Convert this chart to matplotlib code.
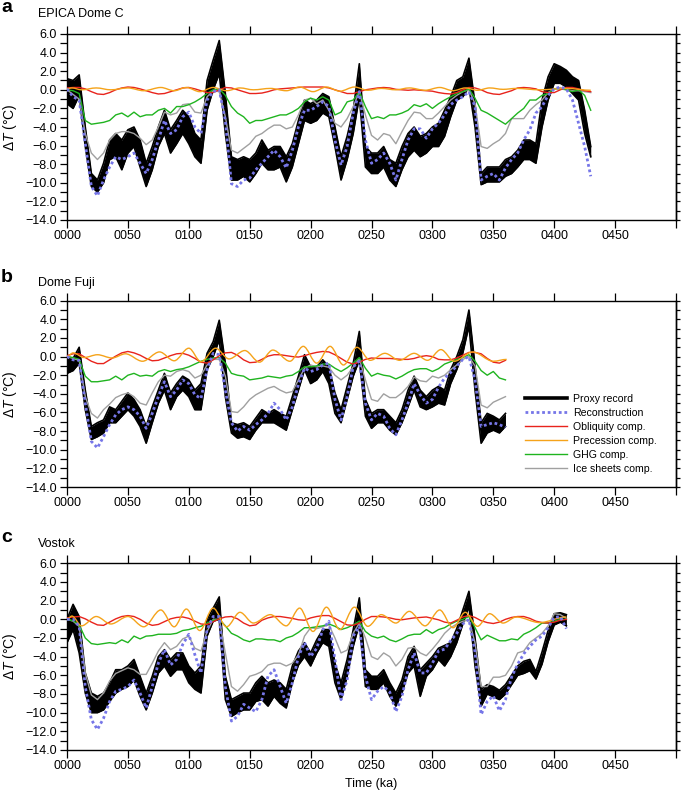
import numpy as np
import matplotlib
matplotlib.use("Agg")
import matplotlib.pyplot as plt
from matplotlib.path import Path
from matplotlib.patches import PathPatch
from matplotlib.lines import Line2D
from matplotlib.ticker import FuncFormatter, MultipleLocator

plt.rcParams['font.family'] = ['Liberation Sans', 'DejaVu Sans']
plt.rcParams['mathtext.fontset'] = 'custom'
plt.rcParams['mathtext.rm'] = 'Liberation Sans'
plt.rcParams['mathtext.it'] = 'Liberation Sans:italic'

# ---------------- data ----------------
# time grids (ka)
t_a = np.arange(0, 431, 5)
t_b = np.arange(0, 361, 5)
t_c = np.arange(0, 411, 5)

# panel a: EPICA Dome C
a_proxy_hi = [1.2, 1.0, 1.6, -4.0, -9.0, -9.7, -7.9, -5.4, -4.7, -5.4, -4.3, -4.0, -5.4, -7.9, -6.1, -4.0, -2.2, -4.3,
              -3.3, -2.2, -2.9, -4.7, -5.4, 1.0, 3.2, 5.3, -0.4, -7.2, -7.5, -7.2, -7.5, -6.8, -5.4, -6.5, -6.1, -6.1,
              -7.2, -5.8, -3.3, -1.1, -1.5, -1.1, -0.4, -0.75, -4.0, -7.2, -5.0, -2.2, 2.8, -6.1, -6.8, -6.8, -6.1,
              -7.5, -7.9, -6.1, -4.7, -4.0, -5.0, -4.7, -4.0, -3.6, -2.2, -0.75, 1.0, 1.4, 3.4, -1.5, -9.0, -8.3, -8.3,
              -8.3, -7.5, -7.2, -6.5, -5.4, -5.4, -5.8, -1.1, 1.4, 2.8, 2.5, 2.1, 1.4, 1.0, -2.2, -6.1]
a_proxy_lo = [-1.5, -2.0, -0.6, -6.1, -10.4, -11.0, -10.0, -7.5, -7.2, -8.6, -6.8, -6.1, -8.3, -10.4, -8.6, -6.1, -4.7,
              -6.8, -5.8, -4.7, -5.8, -7.2, -7.9, -2.2, 0.0, 1.75, -4.7, -9.7, -9.7, -9.3, -9.9, -9.0, -7.9, -8.6, -8.6,
              -8.3, -9.9, -8.3, -5.8, -3.3, -3.6, -3.3, -2.5, -2.9, -6.1, -9.7, -7.5, -4.7, -0.75, -8.3, -9.0, -9.0,
              -8.3, -9.7, -10.4, -8.6, -7.2, -6.5, -7.2, -6.8, -6.1, -6.1, -5.0, -2.9, -1.1, -0.75, 0.3, -4.0, -10.2,
              -9.9, -9.9, -9.9, -9.3, -9.0, -8.3, -7.5, -7.5, -7.9, -4.0, -1.1, 0.7, 0.7, 0.3, -0.4, -1.1, -4.7, -7.2]
a_recon = [0.1, -0.75, -1.1, -5.8, -10.4, -11.4, -9.7, -8.3, -7.2, -7.5, -7.2, -6.8, -7.9, -9.0, -7.5, -5.4, -3.3, -4.7,
           -4.3, -2.9, -2.4, -4.0, -4.7, -1.1, -0.2, 0.0, -3.3, -10.1, -10.4, -9.7, -9.5, -8.6, -7.9, -7.2, -6.5, -7.2,
           -8.4, -6.5, -4.0, -2.2, -2.2, -1.8, -1.3, -1.8, -5.4, -8.1, -6.1, -2.5, -0.2, -5.4, -7.9, -7.5, -6.8, -7.9,
           -9.7, -7.5, -5.4, -4.2, -4.2, -5.2, -4.2, -3.6, -2.7, -1.6, -1.1, -0.75, -0.2, -1.8, -9.7, -9.3, -9.0, -9.7,
           -8.4, -7.5, -6.8, -5.4, -4.3, -2.5, -1.8, -0.6, 0.1, 0.3, 0.1, -1.1, -3.6, -6.1, -9.3]
a_ice = [0.0, -0.5, -1.0, -4.7, -6.8, -7.5, -6.8, -5.4, -4.7, -4.5, -4.5, -4.7, -5.2, -5.9, -5.4, -4.0, -2.4, -2.7, -2.5,
         -1.6, -1.5, -2.4, -2.5, -0.75, -0.1, -0.2, -2.9, -6.5, -6.8, -6.3, -5.8, -5.0, -4.7, -4.2, -3.8, -3.8, -4.2,
         -4.0, -2.7, -1.1, -0.9, -1.5, -1.1, -2.2, -3.6, -4.0, -3.1, -1.8, -0.2, -2.7, -4.9, -5.4, -4.7, -4.9, -5.8,
         -4.5, -3.3, -2.4, -2.5, -3.1, -3.1, -2.5, -1.8, -1.1, -0.6, -0.2, 0.0, -1.5, -6.1, -6.3, -5.8, -5.4, -4.7,
         -3.1, -3.1, -3.1, -2.2, -1.6, -1.1, -0.3, 0.1, 0.25, 0.0, -0.1, -0.1, -0.2, -0.3]
a_ghg = [0.0, -0.1, -0.4, -3.3, -3.7, -3.6, -3.5, -3.3, -2.7, -2.5, -2.9, -2.4, -2.9, -2.7, -2.7, -2.2, -2.0, -2.5, -1.8,
         -1.8, -1.6, -1.3, -0.9, -0.4, 0.0, 0.1, -0.6, -1.8, -2.5, -2.9, -3.6, -3.3, -3.3, -3.1, -2.9, -2.7, -2.7, -2.4,
         -2.0, -1.3, -0.9, -1.1, -0.75, -1.1, -2.7, -2.4, -1.3, -1.1, -0.2, -1.8, -3.1, -2.9, -3.1, -2.7, -2.7, -2.5,
         -2.2, -1.6, -1.8, -1.5, -2.0, -1.5, -1.1, -0.75, -0.4, -0.2, 0.1, -0.9, -2.2, -2.5, -2.9, -3.3, -3.7, -3.1,
         -2.5, -2.0, -1.1, -1.1, -0.6, -0.4, 0.1, 0.1, 0.0, -0.2, 0.0, -0.6, -2.2]
a_obl = [0.2, 0.25, 0.25, 0.1, -0.2, -0.45, -0.5, -0.3, 0.0, 0.2, 0.3, 0.25, 0.1, -0.1, -0.3, -0.45, -0.4, -0.2, 0.0,
         0.2, 0.25, 0.1, -0.1, -0.3, -0.3, 0.0, 0.25, 0.2, 0.0, -0.2, -0.4, -0.4, -0.35, -0.2, 0.0, 0.1, 0.15, 0.2,
         0.25, 0.3, 0.3, 0.3, 0.3, 0.2, 0.0, -0.2, -0.4, -0.4, -0.2, 0.0, 0.1, 0.2, 0.25, 0.2, 0.05, 0.0, -0.05, 0.0,
         -0.05, -0.1, -0.15, -0.3, -0.4, -0.45, -0.3, 0.0, 0.25, 0.2, 0.0, -0.3, -0.45, -0.5, -0.3, -0.1, 0.2, 0.25,
         0.2, 0.1, -0.2, -0.3, -0.3, 0.0, 0.25, 0.25, 0.1, -0.1, -0.2]
# precession: turning points (time, value)
a_pre_t = [0, 4, 12, 24, 36, 50, 63, 77, 88, 98, 109, 120, 131, 142, 153, 167, 180, 191, 202, 213, 224, 236, 247, 258,
           270, 281, 294, 306, 317, 327, 337, 347, 358, 369, 388, 410, 430]
a_pre_v = [0.1, 0.2, 0.0, 0.2, 0.0, 0.2, -0.1, 0.25, -0.1, 0.25, -0.2, 0.25, -0.1, 0.2, 0.0, 0.15, -0.1, 0.3, -0.2, 0.3,
           -0.15, 0.3, -0.05, 0.15, 0.0, 0.2, -0.05, 0.25, -0.1, 0.2, -0.05, 0.2, 0.05, 0.15, 0.0, 0.15, -0.05]

# panel b: Dome Fuji
b_proxy_hi = [0.0, -0.2, 1.0, -3.6, -7.5, -7.1, -6.8, -5.4, -5.7, -4.8, -3.9, -4.6, -5.7, -7.5, -5.4, -3.6, -1.8, -3.9,
              -2.9, -2.1, -2.5, -3.6, -2.9, 0.35, 1.6, 3.9, -0.7, -7.1, -7.3, -7.1, -7.5, -6.6, -5.7, -6.1, -5.7, -6.1,
              -6.4, -4.3, -2.1, 0.2, -1.1, -1.1, -0.35, -1.1, -3.9, -5.7, -3.2, -0.7, 2.7, -4.6, -6.1, -5.7, -5.7, -6.4,
              -7.1, -5.7, -3.6, -2.1, -3.6, -4.3, -3.6, -3.2, -3.6, -1.4, 0.0, 1.8, 5.0, -1.0, -7.1, -6.1, -6.4, -6.8,
              -6.1]
b_proxy_lo = [-1.8, -1.5, -0.7, -5.7, -8.9, -8.6, -8.2, -7.1, -7.1, -6.4, -5.7, -6.4, -7.5, -9.3, -7.1, -5.0, -3.6, -5.7,
              -4.3, -3.6, -4.3, -5.7, -5.7, -1.4, 0.0, 1.8, -4.3, -8.2, -8.75, -8.6, -8.9, -7.9, -7.1, -7.1, -7.1, -7.5,
              -7.9, -5.7, -3.6, -1.4, -2.9, -2.5, -1.6, -2.9, -6.1, -7.1, -4.6, -2.1, -0.35, -6.4, -7.7, -7.1, -7.1,
              -7.9, -8.4, -7.1, -5.4, -3.6, -5.4, -5.7, -5.4, -5.0, -5.2, -2.9, -1.4, 0.4, 3.3, -3.6, -9.3, -8.2, -7.9,
              -8.2, -7.5]
b_recon = [0.0, -0.35, -0.4, -5.0, -9.1, -9.8, -8.6, -7.3, -6.25, -5.7, -5.4, -5.7, -6.4, -7.7, -6.1, -4.3, -2.7, -4.3,
           -3.6, -2.5, -2.9, -4.1, -4.5, -1.4, 0.35, 0.2, -3.6, -7.1, -8.0, -7.5, -7.9, -7.3, -6.8, -6.1, -5.0, -5.7,
           -6.8, -5.4, -3.0, -1.25, -1.6, -1.4, -0.9, -0.7, -4.6, -6.8, -4.3, -1.1, -0.5, -5.0, -6.8, -6.1, -6.4, -7.7,
           -8.4, -6.8, -5.0, -2.9, -4.1, -5.0, -4.6, -3.3, -2.3, -1.7, -1.0, -0.3, 0.0, -2.5, -7.5, -7.3, -7.1, -7.3,
           -7.6]
b_ice = [0.0, -0.2, -0.4, -4.3, -6.1, -6.6, -5.7, -5.1, -4.4, -4.1, -3.9, -4.3, -5.0, -5.2, -3.9, -2.7, -2.0, -2.1, -1.6,
         -1.4, -1.6, -2.3, -2.0, -0.9, -0.3, -0.3, -2.1, -5.9, -6.0, -5.4, -4.6, -4.1, -3.75, -3.4, -3.2, -3.6, -3.9,
         -3.75, -2.5, -1.25, -0.9, -1.1, -1.0, -1.15, -2.0, -2.5, -2.0, -1.1, -0.2, -2.5, -4.6, -4.8, -4.0, -4.4, -4.4,
         -3.9, -3.2, -2.2, -2.6, -2.7, -2.1, -2.3, -2.0, -1.4, -0.9, -0.3, 0.0, -1.0, -5.2, -5.5, -4.9, -4.6, -4.3]
b_ghg = [0.0, -0.1, -0.3, -2.1, -2.7, -2.7, -2.6, -2.5, -2.1, -2.5, -2.0, -1.8, -2.1, -2.0, -2.1, -1.6, -1.4, -1.6, -1.4,
         -1.3, -1.1, -0.8, -0.5, -0.3, -0.15, -0.1, -0.7, -1.8, -2.0, -2.1, -2.5, -2.4, -2.3, -2.1, -2.2, -2.3, -2.1,
         -2.0, -1.6, -1.1, -1.1, -1.0, -0.8, -0.8, -1.25, -1.6, -1.2, -0.7, -0.1, -1.25, -2.1, -1.8, -2.0, -2.1, -2.4,
         -2.1, -1.7, -1.4, -1.3, -1.3, -1.6, -1.3, -0.8, -0.55, -0.3, -0.1, 0.2, -0.5, -1.5, -2.0, -1.6, -2.3, -2.5]
b_obl = [0.1, 0.3, 0.3, -0.1, -0.5, -0.75, -0.75, -0.35, 0.05, 0.4, 0.55, 0.4, 0.15, -0.2, -0.45, -0.4, -0.15, 0.1, 0.3,
         0.35, 0.15, -0.2, -0.6, -0.7, -0.35, 0.1, 0.4, 0.45, 0.15, -0.35, -0.65, -0.6, -0.3, 0.05, 0.2, 0.2, 0.1, 0.0,
         -0.05, 0.1, 0.3, 0.45, 0.55, 0.5, 0.2, -0.2, -0.6, -0.8, -0.6, -0.3, -0.15, -0.2, -0.2, -0.2, -0.25, -0.3,
         -0.3, -0.2, 0.0, 0.1, 0.0, -0.3, -0.35, -0.35, -0.15, 0.15, 0.45, 0.45, 0.3, -0.2, -0.6, -0.7, -0.4]
b_pre_t = [0, 5, 14, 25, 37, 48, 62, 76, 88, 100, 110, 122, 133, 146, 158, 169, 183, 194, 205, 216, 227, 238, 249, 261,
           273, 285, 296, 307, 318, 333, 350, 361]
b_pre_v = [0.0, 0.4, -0.1, 0.2, -0.15, 0.3, -0.5, 0.5, -0.45, 0.9, -0.55, 0.9, -0.25, 0.65, -0.6, 0.7, -0.5, 1.1, -0.7,
           1.1, -0.9, 1.0, -0.4, 0.35, -0.4, 0.35, -0.4, 0.75, -0.5, 0.5, -0.5, -0.3]

# panel c: Vostok
c_proxy_hi = [0.0, 1.6, 0.3, -5.75, -7.9, -8.25, -7.9, -6.8, -5.4, -5.4, -5.0, -4.3, -6.1, -7.9, -6.1, -4.0, -3.25,
              -4.3, -3.6, -3.6, -5.0, -5.75, -5.0, 0.0, 1.2, 2.4, -6.1, -8.6, -8.25, -7.9, -7.9, -6.8, -6.1, -6.8,
              -6.5, -6.8, -7.5, -5.0, -3.4, -2.5, -3.6, -2.2, -1.1, -1.1, -4.7, -6.8, -4.3, -1.1, 2.3, -5.4, -6.1,
              -6.1, -5.4, -6.8, -7.9, -6.5, -4.0, -2.9, -5.4, -4.7, -4.0, -3.1, -2.8, -2.5, -1.0, 1.0, 3.0, -2.0, -7.5,
              -7.0, -7.2, -7.6, -7.0, -6.0, -5.0, -4.5, -4.3, -5.6, -3.5, -1.2, 0.6, 0.7, 0.5]
c_proxy_lo = [-2.5, -1.1, -3.6, -7.9, -10.0, -10.0, -9.7, -8.8, -7.9, -7.5, -7.2, -6.5, -8.25, -9.7, -7.9, -5.75, -5.0,
              -6.1, -5.4, -5.4, -6.8, -7.5, -7.9, -1.8, -0.2, 0.0, -8.6, -10.4, -10.0, -9.7, -9.7, -8.8, -8.6, -9.3,
              -8.25, -9.0, -9.5, -6.8, -4.9, -4.0, -5.0, -3.6, -2.5, -2.9, -6.8, -8.6, -6.1, -2.9, -0.5, -7.2, -7.5,
              -7.5, -6.8, -8.25, -9.3, -7.9, -5.75, -5.0, -8.25, -6.1, -5.4, -4.3, -5.0, -4.0, -2.5, -0.5, 1.4, -5.0,
              -9.3, -8.0, -8.3, -8.6, -8.0, -7.0, -6.0, -5.8, -5.5, -6.4, -4.8, -2.4, -0.6, -0.3, -0.7]
c_recon = [0.0, 0.0, -0.75, -7.2, -10.75, -11.8, -10.6, -8.8, -7.7, -7.5, -7.2, -6.5, -7.9, -9.5, -7.2, -4.7, -3.25,
           -4.9, -4.3, -2.7, -1.6, -3.8, -5.75, -1.1, 0.3, 0.3, -7.2, -10.9, -10.4, -9.1, -9.5, -9.9, -8.6, -6.1, -5.4,
           -7.2, -9.0, -6.8, -4.0, -2.5, -4.0, -3.1, -1.1, -0.2, -4.3, -8.6, -6.5, -1.8, -0.75, -6.1, -8.6, -7.7, -7.2,
           -7.8, -9.9, -8.25, -5.4, -3.6, -5.75, -5.75, -4.7, -3.4, -3.2, -2.3, -1.5, -0.5, 0.0, -3.5, -10.2, -8.8,
           -8.2, -9.8, -8.6, -6.2, -4.8, -3.7, -2.9, -2.2, -1.8, -0.9, 0.2, 0.3, -1.0]
c_ice = [0.0, -0.2, -0.75, -5.75, -8.1, -8.6, -7.9, -6.6, -5.8, -5.5, -5.2, -5.4, -5.9, -5.9, -4.7, -3.4, -2.5, -3.25,
         -2.9, -2.1, -1.8, -3.1, -3.4, -1.3, 0.0, 0.0, -3.6, -7.2, -7.7, -7.0, -6.1, -5.9, -5.6, -4.9, -4.7, -4.7, -5.0,
         -4.7, -3.8, -1.8, -0.9, -1.0, -0.8, -0.6, -2.0, -3.6, -3.3, -1.5, -0.4, -2.0, -4.0, -4.3, -3.6, -4.0, -5.0,
         -4.3, -3.1, -3.0, -3.6, -3.9, -3.2, -2.4, -1.5, -0.9, -0.5, -0.2, -0.1, -2.5, -7.2, -7.2, -6.2, -6.2, -6.0,
         -5.0, -3.6, -3.4, -2.5, -2.0, -1.5, -0.7, 0.6, 0.5, 0.1]
c_ghg = [0.0, -0.15, -0.6, -2.0, -2.6, -2.7, -2.6, -2.5, -2.6, -2.2, -2.5, -1.8, -2.1, -1.8, -1.75, -1.6, -1.6, -1.6,
         -1.5, -1.2, -1.1, -0.9, -0.75, -0.4, -0.1, 0.0, -0.7, -1.5, -1.8, -2.2, -2.4, -2.1, -2.1, -2.2, -2.2, -2.4,
         -2.0, -1.8, -1.4, -0.9, -0.9, -0.8, -0.7, -0.5, -0.75, -1.1, -0.9, -0.6, -0.2, -1.3, -1.8, -2.0, -1.8, -2.2,
         -2.4, -2.1, -1.75, -1.6, -1.6, -1.1, -1.5, -1.1, -0.9, -0.5, -0.2, 0.0, 0.3, -0.9, -2.2, -1.7, -2.0, -2.3,
         -2.3, -2.1, -2.2, -1.6, -1.3, -0.9, -0.4, -0.4, -0.2, 0.0, 0.0]
c_obl = [0.15, 0.25, 0.3, 0.05, -0.3, -0.6, -0.65, -0.3, 0.05, 0.3, 0.4, 0.3, 0.0, -0.4, -0.65, -0.55, -0.25, 0.05, 0.2,
         0.25, 0.1, -0.2, -0.5, -0.55, -0.25, 0.05, 0.25, 0.3, 0.05, -0.4, -0.7, -0.6, -0.1, 0.15, 0.3, 0.3, 0.2, 0.1,
         -0.05, -0.1, 0.15, 0.3, 0.4, 0.4, 0.1, -0.25, -0.6, -0.65, -0.4, 0.0, 0.3, 0.3, 0.25, 0.15, 0.0, -0.05, 0.05,
         0.15, 0.2, 0.25, 0.1, -0.05, -0.3, -0.4, -0.1, 0.25, 0.4, 0.2, -0.15, -0.35, -0.45, -0.3, 0.0, 0.2, 0.3, 0.3,
         0.1, -0.2, -0.35, -0.4, -0.3, -0.1, 0.0]
c_pre_t = [0, 4, 12, 24, 36, 50, 63, 77, 88, 98, 109, 120, 131, 142, 153, 167, 180, 191, 202, 213, 224, 236, 247, 258,
           270, 281, 294, 306, 317, 327, 337, 347, 358, 369, 388, 410]
c_pre_v = [0.0, 0.35, -0.7, 0.3, -0.5, 0.3, -0.8, 1.0, -0.8, 1.1, -1.2, 1.2, -0.8, 0.75, -0.4, 0.5, -0.7, 1.2, -1.3,
           1.3, -1.1, 1.3, -0.75, 0.5, -0.4, 0.85, -0.7, 1.0, -0.9, 0.75, -0.75, 0.6, -0.4, 0.25, -0.35, 0.25]

labels = ['Proxy record', 'Reconstruction', 'Obliquity comp.', 'Precession comp.', 'GHG comp.', 'Ice sheets comp.']
col_rec = '#7676e8'
col_obl = '#e8231c'
col_pre = '#f5a31a'
col_ghg = '#1fb41f'
col_ice = '#a0a0a0'


def smooth_line(ax, t, v, **kw):
    # cubic segments with flat tangents at each turning point
    verts = [(t[0], v[0])]
    codes = [Path.MOVETO]
    for i in range(len(t) - 1):
        d = (t[i + 1] - t[i]) / 3.0
        verts += [(t[i] + d, v[i]), (t[i + 1] - d, v[i + 1]), (t[i + 1], v[i + 1])]
        codes += [Path.CURVE4] * 3
    ax.add_patch(PathPatch(Path(verts, codes), fill=False, **kw))


def draw_panel(ax, t, hi, lo, rec, ice, ghg, obl, pre_t, pre_v):
    ax.fill_between(t, lo, hi, color='black', lw=0, zorder=2)
    ax.plot(t, hi, color='black', lw=1.2, zorder=2)
    ax.plot(t, lo, color='black', lw=1.2, zorder=2)
    ax.plot(t, ice, color=col_ice, lw=1.0, zorder=3)
    ax.plot(t, ghg, color=col_ghg, lw=1.0, zorder=3)
    ax.plot(t, obl, color=col_obl, lw=1.0, zorder=3)
    smooth_line(ax, pre_t, pre_v, edgecolor=col_pre, lw=1.0, zorder=3)
    ax.plot(t, rec, color=col_rec, lw=2.0, ls=(0, (1, 1)), zorder=4)

    ax.set_xlim(0, 500)
    ax.set_ylim(-14, 6)
    ax.set_xticks(np.arange(0, 501, 50))
    ax.set_xticklabels(['%04d' % x for x in range(0, 451, 50)] + [''])
    ax.yaxis.set_major_locator(MultipleLocator(2))
    ax.yaxis.set_minor_locator(MultipleLocator(1))
    ax.yaxis.set_major_formatter(FuncFormatter(lambda v, p: ('%.1f' % v).replace('-', '\u2212')))
    ax.tick_params(axis='x', top=True, bottom=True, direction='out', length=5.5, width=0.9,
                   labelsize=9, pad=2)
    ax.tick_params(axis='y', which='both', left=True, right=False, direction='out', length=5,
                   width=0.9, labelsize=9, pad=2.5)
    for s in ax.spines.values():
        s.set_linewidth(1.0)
    sec = ax.secondary_yaxis('right')
    sec.set_yticks(np.arange(-14, 7, 1))
    sec.tick_params(direction='out', length=3, width=0.9, labelright=False)
    sec.spines['right'].set_linewidth(1.0)


fig = plt.figure(figsize=(6.85, 7.98), dpi=100)
W, H = 685.0, 798.0
left, right = 67 / W, 676 / W
panels = [
    (34, 220, 'a', 'EPICA Dome C',
     (t_a, a_proxy_hi, a_proxy_lo, a_recon, a_ice, a_ghg, a_obl, a_pre_t, a_pre_v), 8, 14),
    (300.7, 487, 'b', 'Dome Fuji',
     (t_b, b_proxy_hi, b_proxy_lo, b_recon, b_ice, b_ghg, b_obl, b_pre_t, b_pre_v), 277, 283),
    (563.3, 750, 'c', 'Vostok',
     (t_c, c_proxy_hi, c_proxy_lo, c_recon, c_ice, c_ghg, c_obl, c_pre_t, c_pre_v), 537, 544),
]
axes = []
for top, bot, letter, title, data, ly, ty in panels:
    ax = fig.add_axes([left, 1 - bot / H, right - left, (bot - top) / H])
    draw_panel(ax, *data)
    fig.text(1 / W, 1 - ly / H, letter, fontsize=14, fontweight='bold', va='center', ha='left')
    fig.text(38 / W, 1 - ty / H, title, fontsize=9, va='center', ha='left')
    fig.text(10 / W, 1 - (top + bot) / 2 / H, r'$\Delta\mathit{T}$ (°C)', rotation=90,
             fontsize=10, va='center', ha='center')
    axes.append(ax)

axes[2].set_xlabel('Time (ka)', fontsize=9, labelpad=4)

handles = [Line2D([], [], color='black', lw=2.6),
           Line2D([], [], color=col_rec, lw=2.0, ls=(0, (1, 1))),
           Line2D([], [], color=col_obl, lw=1.0),
           Line2D([], [], color=col_pre, lw=1.0),
           Line2D([], [], color=col_ghg, lw=1.0),
           Line2D([], [], color=col_ice, lw=1.0)]
axes[1].legend(handles, labels, loc='upper left', bbox_to_anchor=(0.752, 0.50), frameon=False,
               fontsize=7.6, handlelength=4.0, handletextpad=0.55, labelspacing=0.38,
               borderpad=0, borderaxespad=0)

fig.savefig('out.png', dpi=100)
